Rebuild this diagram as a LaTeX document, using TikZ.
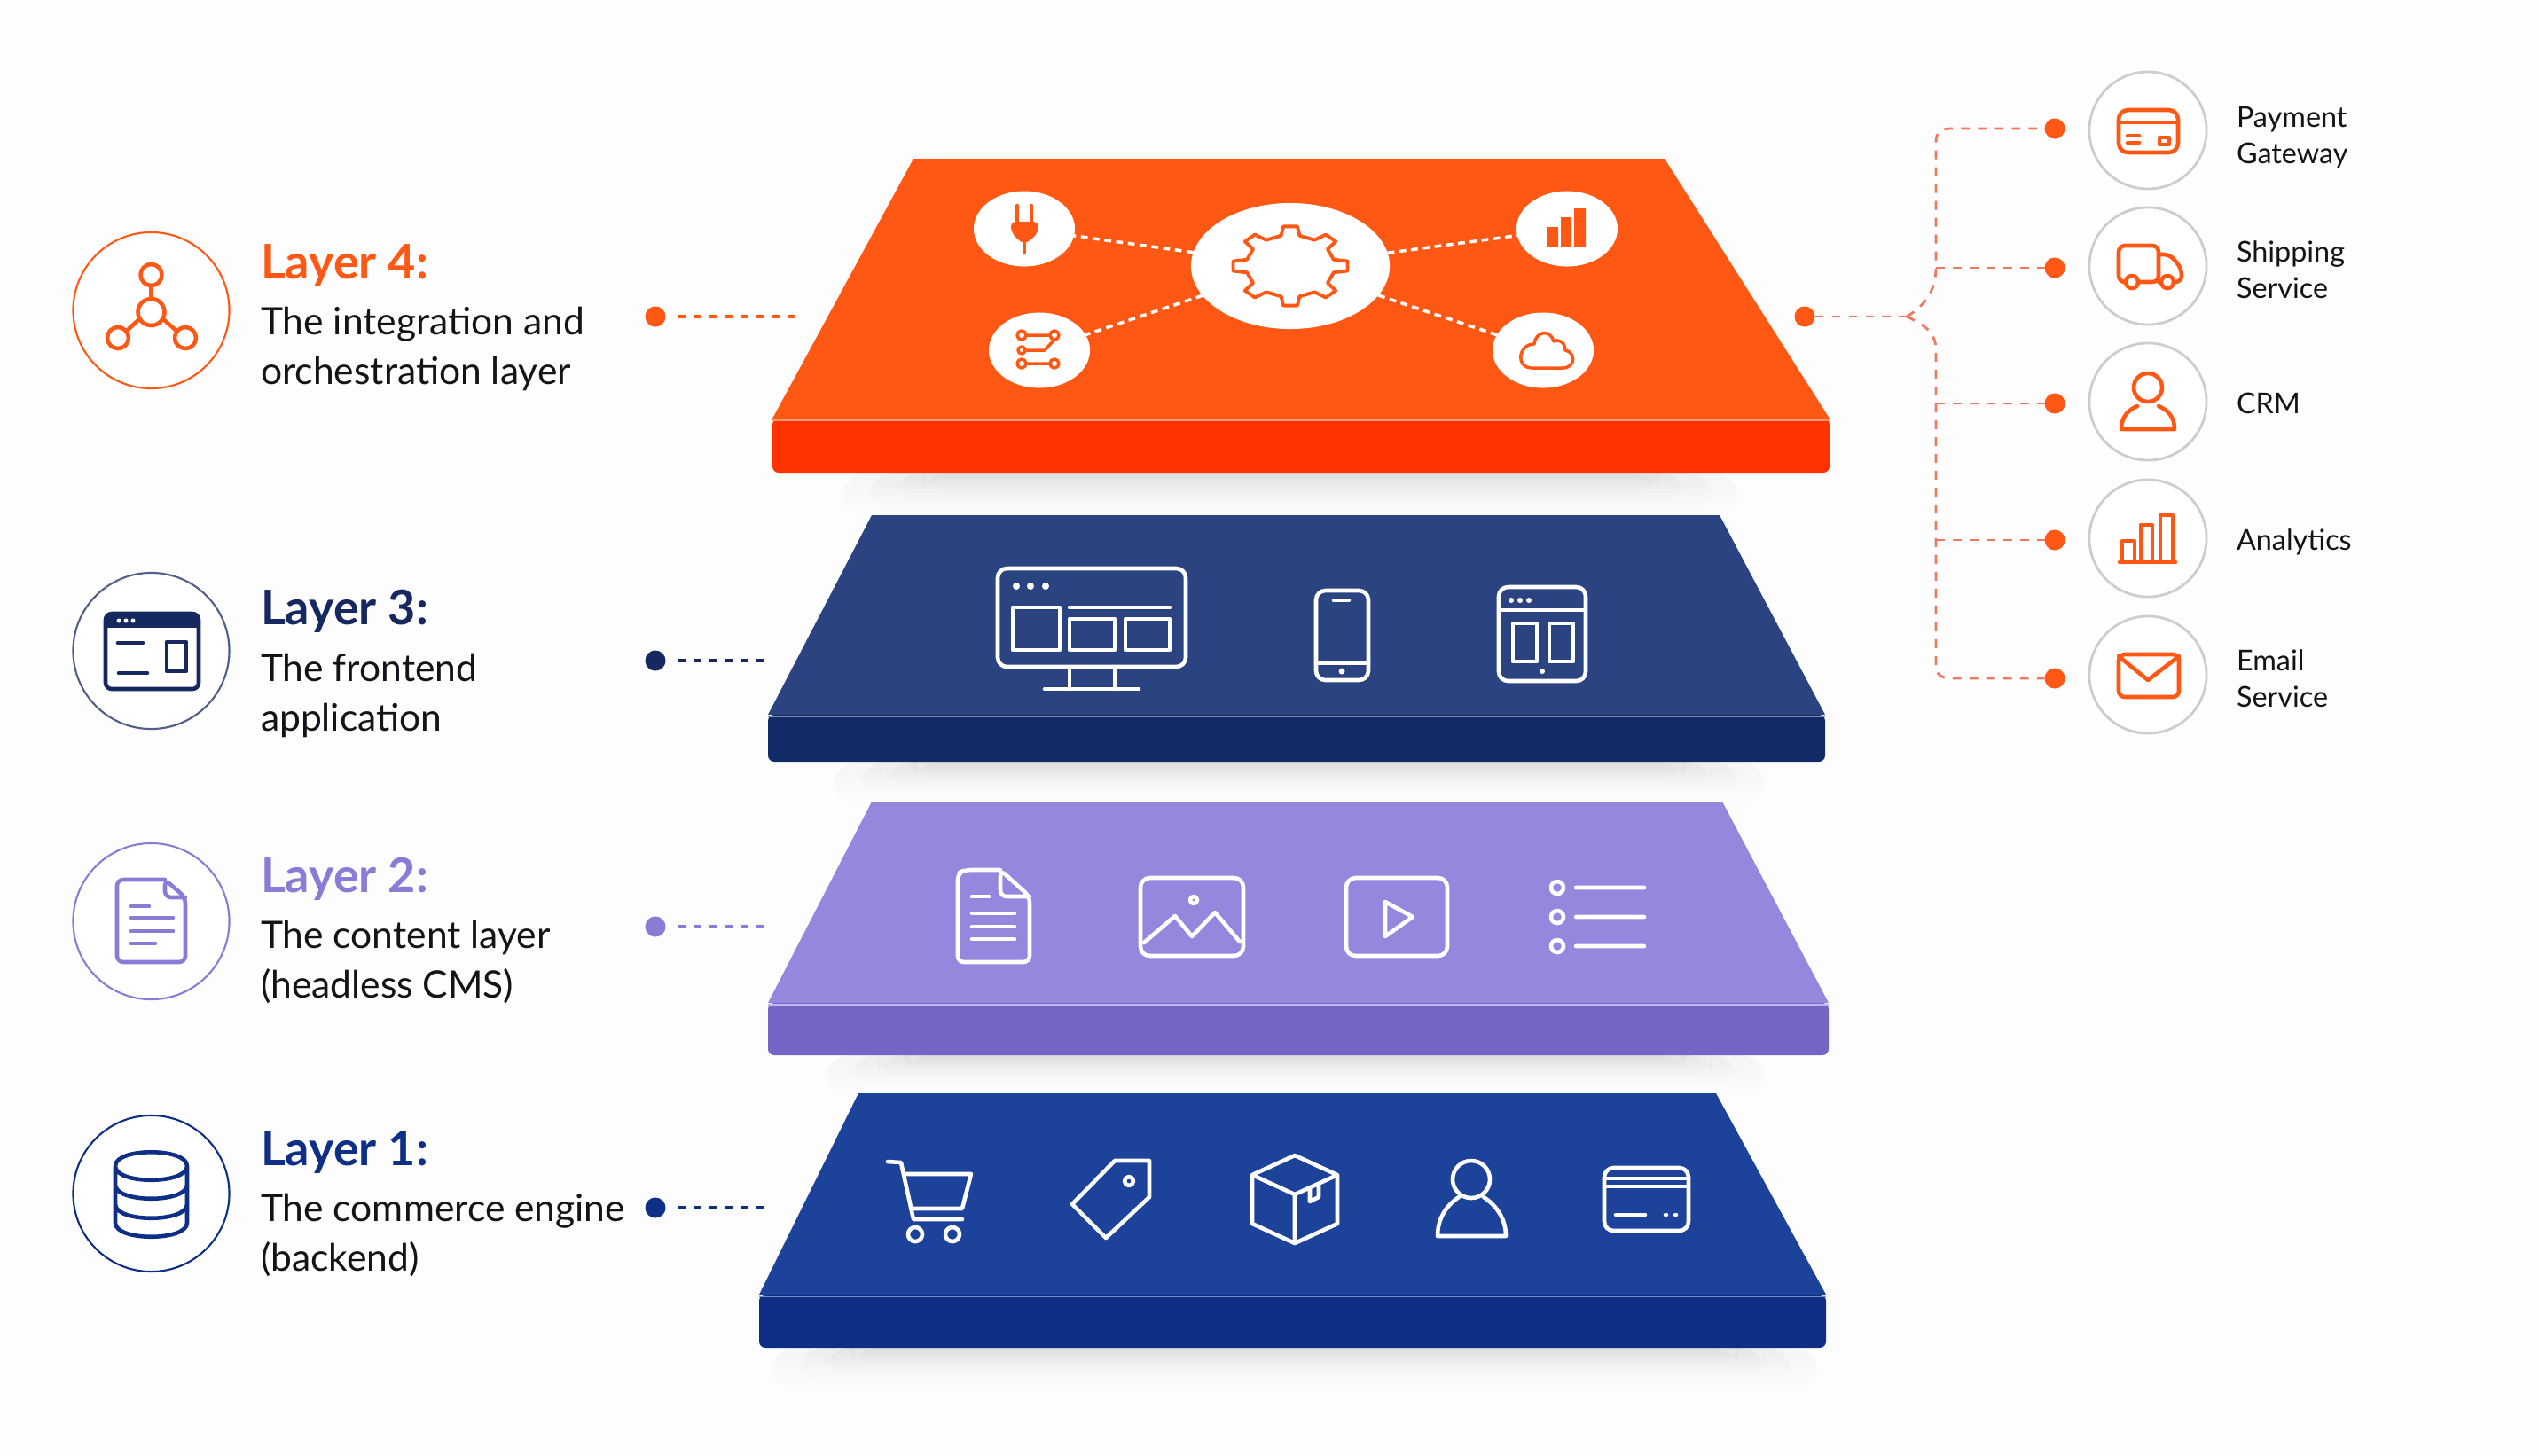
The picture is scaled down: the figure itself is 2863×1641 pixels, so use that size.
\documentclass[tikz,border=0pt]{standalone}
\usepackage{fontspec}
\setmainfont{Lato}
\usepackage{xcolor}
\definecolor{paperwhite}{RGB}{253, 253, 253}
\definecolor{orangetop}{RGB}{255, 88, 20}
\definecolor{orangefront}{RGB}{255, 50, 0}
\definecolor{navytop}{RGB}{43, 67, 128}
\definecolor{navyfront}{RGB}{18, 42, 102}
\definecolor{navyink}{RGB}{22, 40, 96}
\definecolor{violettop}{RGB}{147, 136, 221}
\definecolor{violetfront}{RGB}{117, 102, 198}
\definecolor{violetink}{RGB}{138, 123, 214}
\definecolor{bluetop}{RGB}{28, 67, 153}
\definecolor{bluefront}{RGB}{14, 47, 133}
\definecolor{ringgray}{RGB}{205, 205, 205}
\definecolor{branchline}{RGB}{240, 120, 95}
\definecolor{labelink}{RGB}{20, 20, 24}
\usetikzlibrary{shapes.geometric, positioning, fadings}
\newcommand{\softshadow}[4]{%
  \foreach \inset in {0,30,60,90}
    \fill[black, fill opacity=0.03, path fading=south, rounded corners=8pt] (#1+\inset,#2) rectangle (#3-\inset,#4-\inset/3);
}

\begin{document}
\begin{tikzpicture}[
        x=0.01cm, y=-0.01cm,
        every node/.style={inner sep=0pt, outer sep=0pt},
        bigring/.style={circle, minimum size=1.76cm, line width=0.6pt, draw=#1, fill=white},
        smallring/.style={circle, minimum size=1.32cm, line width=0.8pt, draw=ringgray, fill=white},
        layertitle/.style={anchor=base west, font=\fontsize{15.3}{18}\selectfont\bfseries, text=#1},
        layerbody/.style={anchor=base west, align=left, font=\fontsize{12.1}{15.9}\selectfont, text=labelink},
        sidelabel/.style={anchor=base west, align=left, font=\fontsize{9.2}{11.4}\selectfont, text=labelink},
        pin/.style={circle, minimum size=0.23cm, fill=#1},
        leader/.style={line width=1pt, draw=#1, dash pattern=on 2.6pt off 2.4pt},
        branch/.style={line width=0.8pt, draw=branchline, dash pattern=on 2.8pt off 2.6pt},
        hubspot/.style={ellipse, fill=white, minimum width=#1},
        spoke/.style={draw=white, line width=1pt, dash pattern=on 2.2pt off 1.6pt},
        icon/.style={line width=1.3pt, line join=round, line cap=round, draw=#1},
    ]

        \useasboundingbox (0,0) rectangle (2863,1641);
        \fill[paperwhite] (0,0) rectangle (2863,1641);

        % Shadows below the slabs
        \softshadow{950}{533}{1960}{585}
        \softshadow{940}{859}{1990}{908}
        \softshadow{930}{1190}{1990}{1236}
        \softshadow{870}{1520}{2050}{1570}

        % Layer 4 slab
        \fill[orangetop] (1030,179) -- (1877,179) -- (2063,472) -- (871,472) -- cycle;
        \fill[orangefront, rounded corners=2pt] (871,472) -- (2063,472) -- (2063,533) -- (871,533) -- cycle;
        \draw[orangetop!60!white, line width=0.5pt] (871,474) -- (2063,474);

        % Layer 3 slab
        \fill[navytop] (983,581) -- (1939,581) -- (2058,806) -- (866,806) -- cycle;
        \fill[navyfront, rounded corners=2pt] (866,806) -- (2058,806) -- (2058,859) -- (866,859) -- cycle;
        \draw[navytop!60!white, line width=0.5pt] (866,808) -- (2058,808);

        % Layer 2 slab
        \fill[violettop] (983,904) -- (1942,904) -- (2062,1131) -- (866,1131) -- cycle;
        \fill[violetfront, rounded corners=2pt] (866,1131) -- (2062,1131) -- (2062,1190) -- (866,1190) -- cycle;
        \draw[violettop!60!white, line width=0.5pt] (866,1133) -- (2062,1133);

        % Layer 1 slab
        \fill[bluetop] (968,1233) -- (1935,1233) -- (2059,1460) -- (856,1460) -- cycle;
        \fill[bluefront, rounded corners=2pt] (856,1460) -- (2059,1460) -- (2059,1520) -- (856,1520) -- cycle;
        \draw[bluetop!60!white, line width=0.5pt] (856,1462) -- (2059,1462);

        % Layer 4 hub and spokes
        \node[hubspot=2.24cm, minimum height=1.42cm] (hub) at (1455,300) {};
        \node[hubspot=1.14cm, minimum height=0.85cm] (plugspot) at (1155,258) {};
        \node[hubspot=1.14cm, minimum height=0.85cm] (barspot) at (1767,258) {};
        \node[hubspot=1.14cm, minimum height=0.85cm] (flowspot) at (1172,395) {};
        \node[hubspot=1.14cm, minimum height=0.85cm] (cloudspot) at (1740,395) {};
        \draw[spoke] (hub) -- (plugspot);
        \draw[spoke] (hub) -- (barspot);
        \draw[spoke] (hub) -- (flowspot);
        \draw[spoke] (hub) -- (cloudspot);

        % Gear
        \draw[icon=orangetop, line width=1.1pt] ({1455+50*cos(-12)},{300+35*sin(-12)})
            \foreach \a in {0,45,...,315} {
                -- ({1455+65*cos(\a-7)},{300+45*sin(\a-7)}) -- ({1455+65*cos(\a+7)},{300+45*sin(\a+7)})
                -- ({1455+50*cos(\a+12)},{300+35*sin(\a+12)}) -- ({1455+50*cos(\a+33)},{300+35*sin(\a+33)})
            } -- cycle;

        % Plug
        \draw[icon=orangetop] (1147,232) -- (1147,250) (1163,232) -- (1163,250) (1155,272) -- (1155,285);
        \fill[orangetop, rounded corners=2pt] (1139,250) -- (1172,250) -- (1170,264) -- (1155,276) -- (1141,264) -- cycle;

        % Small bars
        \fill[orangetop] (1744,256) rectangle (1757,278) (1760,245) rectangle (1772,278) (1775,235) rectangle (1788,278);

        % Flow
        \draw[icon=orangetop, line width=1pt] (1152,378) circle[radius=5] (1189,378) circle[radius=5] (1152,395) circle[radius=4] (1152,410) circle[radius=5] (1189,410) circle[radius=5]
            (1157,378) -- (1184,378) (1157,410) -- (1184,410) (1189,383) -- (1178,395) -- (1157,395);

        % Cloud
        \draw[icon=orangetop, line width=1pt] (1728,415) -- (1762,415) .. controls (1777,415) and (1777,397) .. (1765,395)
            .. controls (1765,385) and (1756,382) .. (1752,385) .. controls (1749,372) and (1732,372) .. (1730,388)
            .. controls (1712,388) and (1708,415) .. (1728,415) -- cycle;

        % Layer 3 icons
        \draw[icon=white, rounded corners=3pt] (1125,641) rectangle (1337,752);
        \draw[icon=white] (1178,777) -- (1284,777) (1206,752) -- (1206,777) (1257,752) -- (1257,777);
        \fill[white] (1146,661) circle[radius=4] (1162,661) circle[radius=4] (1179,661) circle[radius=4];
        \draw[icon=white] (1142,685) rectangle (1195,733) (1206,685) -- (1319,685) (1206,698) rectangle (1257,733) (1269,698) rectangle (1319,733);
        \draw[icon=white, rounded corners=3pt] (1484,666) rectangle (1543,767);
        \draw[icon=white] (1504,677) -- (1521,677) (1484,748) -- (1543,748);
        \fill[white] (1513,757) circle[radius=3.5];
        \draw[icon=white, rounded corners=3pt] (1690,662) rectangle (1788,768);
        \draw[icon=white] (1690,688) -- (1788,688) (1706,703) rectangle (1733,746) (1747,703) rectangle (1774,746);
        \fill[white] (1704,677) circle[radius=3] (1714,677) circle[radius=3] (1724,677) circle[radius=3] (1739,757) circle[radius=3];

        % Layer 2 icons
        \draw[icon=white, rounded corners=2pt] (1128,981) -- (1088,981) -- (1080,985) -- (1080,1085) -- (1161,1085) -- (1161,1011) -- (1128,981) -- (1128,1011) -- (1161,1011);
        \draw[icon=white] (1096,1011) -- (1115,1011) (1096,1030) -- (1144,1030) (1096,1045) -- (1144,1045) (1096,1059) -- (1144,1059);
        \draw[icon=white, rounded corners=3pt] (1286,990) rectangle (1402,1078);
        \draw[icon=white] (1290,1063) -- (1325,1033) -- (1344,1056) -- (1370,1029) -- (1398,1062) (1346,1015) circle[radius=4];
        \draw[icon=white, rounded corners=3pt] (1518,990) rectangle (1632,1078);
        \draw[icon=white] (1562,1017) -- (1593,1034) -- (1562,1056) -- cycle;
        \draw[icon=white] (1756,1001) circle[radius=7] (1756,1034) circle[radius=7] (1756,1067) circle[radius=7]
            (1777,1001) -- (1854,1001) (1777,1034) -- (1854,1034) (1777,1067) -- (1854,1067);

        % Layer 1 icons
        \draw[icon=white] (1001,1310) -- (1016,1311) -- (1030,1375) -- (1085,1375) (1019,1324) -- (1095,1324) -- (1085,1363) -- (1027,1363)
            (1032,1392) circle[radius=8] (1074,1392) circle[radius=8];
        \draw[icon=white] (1257,1309) -- (1296,1309) -- (1296,1350) -- (1247,1396) -- (1209,1358) -- cycle (1273,1332) circle[radius=5];
        \draw[icon=white] (1460,1303) -- (1508,1325) -- (1508,1380) -- (1460,1402) -- (1412,1380) -- (1412,1325) -- cycle
            (1412,1325) -- (1460,1347) -- (1508,1325) (1460,1347) -- (1460,1402) (1477,1340) -- (1477,1355) -- (1487,1350) -- (1487,1335);
        \draw[icon=white] (1659,1330) circle[radius=21]
            (1645,1350) .. controls (1630,1360) and (1621,1375) .. (1621,1394) -- (1698,1394) .. controls (1698,1375) and (1688,1360) .. (1673,1350);
        \draw[icon=white, rounded corners=3pt] (1809,1317) rectangle (1904,1388);
        \draw[icon=white] (1809,1329) -- (1904,1329) (1809,1338) -- (1904,1338) (1822,1370) -- (1855,1370) (1878,1370) -- (1879,1370) (1889,1370) -- (1890,1370);

        % Left column
        \node[bigring=orangetop] (ring4) at (170.5,350) {};
        \node[bigring=navyink!75!white] (ring3) at (170.5,734) {};
        \node[bigring=violetink] (ring2) at (170.5,1039) {};
        \node[bigring=bluefront] (ring1) at (170.5,1346) {};

        \node[layertitle=orangetop] (title4) at (294,314) {Layer 4:};
        \node[layerbody] (body4) at (294,433) {The integration and\\orchestration layer};
        \node[layertitle=navyink] (title3) at (294,704) {Layer 3:};
        \node[layerbody] (body3) at (294,824) {The frontend\\application};
        \node[layertitle=violetink] (title2) at (294,1006) {Layer 2:};
        \node[layerbody] (body2) at (294,1125) {The content layer\\(headless CMS)};
        \node[layertitle=bluefront] (title1) at (294,1314) {Layer 1:};
        \node[layerbody] (body1) at (294,1433) {The commerce engine\\(backend)};

        % Left icons
        \draw[icon=orangetop] (170.5,322) -- (170.5,337) (158,359) -- (143,373) (183,359) -- (199,373)
            (170.5,352) circle[radius=15] (170.5,310) circle[radius=12] (133,381) circle[radius=12] (209,381) circle[radius=12];
        \draw[icon=navyink, rounded corners=2pt] (119,692) rectangle (224,777);
        \fill[navyink] (119,692) rectangle (224,708);
        \fill[white] (134,700) circle[radius=2.5] (142,700) circle[radius=2.5] (150,700) circle[radius=2.5];
        \draw[icon=navyink] (188,724) rectangle (210,757) (133,725) -- (161,725) (134,759) -- (166,759);
        \draw[icon=violetink, rounded corners=2pt] (186,992) -- (132,992) -- (132,1085) -- (209,1085) -- (209,1012) -- (186,992) -- (186,1012) -- (209,1012);
        \draw[icon=violetink] (148,1022) -- (168,1022) (148,1035) -- (195,1035) (148,1050) -- (195,1050) (148,1064) -- (175,1064);
        \draw[icon=bluefront] (130,1315) .. controls (130,1294) and (211,1294) .. (211,1315) -- (211,1379) .. controls (211,1400) and (130,1400) .. (130,1379) -- cycle
            (130,1315) .. controls (130,1336) and (211,1336) .. (211,1315)
            (130,1336) .. controls (130,1357) and (211,1357) .. (211,1336)
            (130,1358) .. controls (130,1379) and (211,1379) .. (211,1358);

        % Leaders to the slabs
        \node[pin=orangetop] (dot4) at (739,357) {};
        \node[pin=navyink] (dot3) at (739,745) {};
        \node[pin=violetink] (dot2) at (739,1045) {};
        \node[pin=bluefront] (dot1) at (739,1362) {};
        \coordinate (end4) at (902,357);
        \coordinate (end3) at (871,745);
        \coordinate (end2) at (871,1045);
        \coordinate (end1) at (871,1362);
        \draw[leader=orangetop, shorten <=4pt] (dot4) -- (end4);
        \draw[leader=navyink, shorten <=4pt] (dot3) -- (end3);
        \draw[leader=violetink, shorten <=4pt] (dot2) -- (end2);
        \draw[leader=bluefront, shorten <=4pt] (dot1) -- (end1);

        % Right column
        \node[smallring] (payring) at (2422,147) {};
        \node[smallring] (shipring) at (2422,300) {};
        \node[smallring] (crmring) at (2422,453) {};
        \node[smallring] (statring) at (2422,607) {};
        \node[smallring] (mailring) at (2422,761) {};

        \node[pin=orangetop] (src) at (2035,357) {};
        \node[pin=orangetop] (paydot) at (2317,145) {};
        \node[pin=orangetop] (shipdot) at (2317,302) {};
        \node[pin=orangetop] (crmdot) at (2317,455) {};
        \node[pin=orangetop] (statdot) at (2317,609) {};
        \node[pin=orangetop] (maildot) at (2317,765) {};

        \coordinate (fork) at (2150,357);
        \coordinate (shipjoin) at (2183,302);
        \coordinate (crmjoin) at (2183,455);
        \coordinate (statjoin) at (2183,609);
        \draw[branch] (src) -- (fork);
        \draw[branch] (fork) .. controls (2170,345) and (2183,328) .. (shipjoin) -- (2183,160) .. controls (2183,150) and (2188,145) .. (2200,145) -- (paydot);
        \draw[branch] (fork) .. controls (2170,366) and (2183,375) .. (2183,395) -- (crmjoin) -- (statjoin) -- (2183,750) .. controls (2183,760) and (2188,765) .. (2200,765) -- (maildot);
        \draw[branch] (shipjoin) -- (shipdot);
        \draw[branch] (crmjoin) -- (crmdot);
        \draw[branch] (statjoin) -- (statdot);

        \node[sidelabel] (paylabel) at (2522,184) {Payment\\Gateway};
        \node[sidelabel] (shiplabel) at (2522,336) {Shipping\\Service};
        \node[sidelabel] (crmlabel) at (2522,466) {CRM};
        \node[sidelabel] (statlabel) at (2522,620) {Analytics};
        \node[sidelabel] (maillabel) at (2522,797) {Email\\Service};

        % Right icons
        \draw[icon=orangetop, rounded corners=3pt] (2389,124) rectangle (2456,172);
        \draw[icon=orangetop] (2389,138) -- (2456,138) (2399,153) -- (2412,153) (2399,161) -- (2412,161) (2435,155) rectangle (2446,163);
        \draw[icon=orangetop, rounded corners=2pt] (2396,318) -- (2389,318) -- (2389,277) -- (2434,277) -- (2434,318) -- (2412,318)
            (2434,287) -- (2447,287) -- (2460,303) -- (2460,318) -- (2451,318) (2434,318) -- (2437,318);
        \draw[icon=orangetop] (2404,318) circle[radius=7] (2444,318) circle[radius=7];
        \draw[icon=orangetop] (2422,437) circle[radius=16]
            (2410,458) .. controls (2400,462) and (2392,470) .. (2392,484) -- (2452,484) .. controls (2452,470) and (2444,462) .. (2434,458);
        \draw[icon=orangetop] (2390,634) -- (2453,634) (2393,634) -- (2393,610) -- (2407,610) -- (2407,634)
            (2414,634) -- (2414,592) -- (2427,592) -- (2427,634) (2436,634) -- (2436,581) -- (2450,581) -- (2450,634);
        \draw[icon=orangetop, rounded corners=2pt] (2389,738) rectangle (2457,786);
        \draw[icon=orangetop] (2389,740) -- (2422,767) -- (2457,740);

\end{tikzpicture}
\end{document}
